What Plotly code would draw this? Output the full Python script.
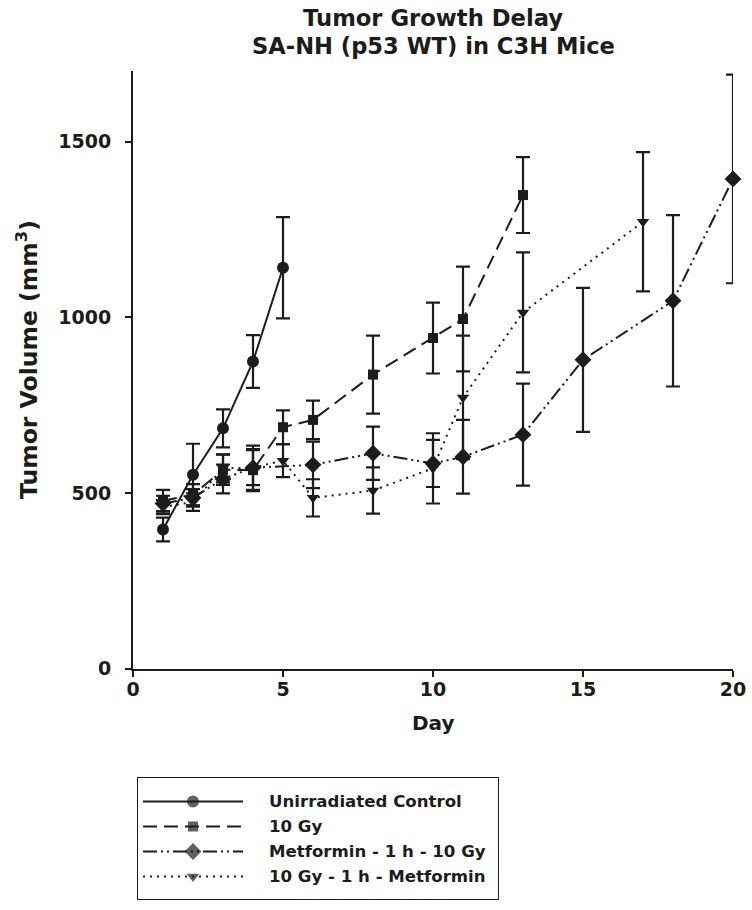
import plotly.graph_objects as go

# ---------------- data ----------------
days_control = [1, 2, 3, 4, 5]
vol_control = [396, 552, 684, 874, 1141]
sem_control = [34, 88, 54, 75, 144]

days_10gy = [1, 2, 3, 4, 5, 6, 8, 10, 11, 13]
vol_10gy = [478, 495, 566, 565, 687, 708, 837, 941, 995, 1348]
sem_10gy = [31, 30, 43, 60, 48, 55, 111, 101, 149, 108]

days_met_rt = [1, 2, 3, 4, 6, 8, 10, 11, 13, 15, 18, 20]
vol_met_rt = [470, 486, 540, 572, 580, 613, 584, 603, 666, 879, 1047, 1394]
sem_met_rt = [22, 25, 41, 63, 66, 76, 67, 105, 145, 205, 244, 297]

days_rt_met = [1, 2, 3, 4, 5, 6, 8, 10, 11, 13, 17]
vol_rt_met = [460, 474, 570, 572, 592, 486, 507, 570, 772, 1014, 1272]
sem_rt_met = [20, 25, 40, 50, 47, 53, 66, 100, 176, 171, 198]

series_names = ["Unirradiated Control", "10 Gy",
                "Metformin - 1 h - 10 Gy", "10 Gy - 1 h - Metformin"]
x_ticks = [0, 5, 10, 15, 20]
y_ticks = [0, 500, 1000, 1500]

title_lines = ["Tumor Growth Delay", "SA-NH (p53 WT) in C3H Mice"]
x_title = "Day"
y_title = "Tumor Volume (mm<sup>3</sup>)"

# ---------------- styling ----------------
W, H = 752, 910
INK = "#1c1c1c"
FONT = "DejaVu Sans"

PL, PR, PT, PB = 133, 733, 71.4, 668.6   # plot area in px

styles = [
    dict(symbol="circle", size=12, dash="solid"),
    dict(symbol="square", size=10, dash="14px,7px"),
    dict(symbol="diamond", size=13, dash="14px,4px,2px,4px,2px,4px"),
    dict(symbol="triangle-down", size=11, dash="2px,5px"),
]
data = [
    (days_control, vol_control, sem_control),
    (days_10gy, vol_10gy, sem_10gy),
    (days_met_rt, vol_met_rt, sem_met_rt),
    (days_rt_met, vol_rt_met, sem_rt_met),
]

fig = go.Figure()
for (xs, ys, es), st, name in zip(data, styles, series_names):
    fig.add_trace(go.Scatter(
        x=xs, y=ys, name=name, mode="lines+markers", showlegend=False,
        line=dict(color=INK, width=2, dash=st["dash"]),
        marker=dict(symbol=st["symbol"], size=st["size"], color=INK, line=dict(width=0)),
        error_y=dict(type="data", array=es, visible=True, color=INK, thickness=2.2, width=7),
        cliponaxis=False, xaxis="x", yaxis="y",
    ))

# ---------------- custom legend (separate small axes, px units) ----------------
LX0, LX1, LY0, LY1 = 137, 499, 777, 900
rows = [801.5, 826.5, 851.5, 876.5]
for st, name, ry in zip(styles, series_names, rows):
    fig.add_trace(go.Scatter(
        x=[143, 193, 243], y=[ry, ry, ry], mode="lines+markers", showlegend=False,
        line=dict(color=INK, width=2, dash=st["dash"]),
        marker=dict(symbol=st["symbol"], size=[0, st["size"], 0], color=INK, line=dict(width=0)),
        hoverinfo="skip", xaxis="x2", yaxis="y2", cliponaxis=False,
    ))

annotations = []
for name, ry in zip(series_names, rows):
    annotations.append(dict(
        x=267, y=ry, xref="x2", yref="y2", text=name, showarrow=False,
        xanchor="left", yanchor="middle",
        font=dict(family=FONT, size=16.6, color=INK, weight="bold")))

cx = (PL + PR) / 2 / W
annotations.append(dict(x=cx, y=1 - 17.5 / H, xref="paper", yref="paper",
                        text=title_lines[0], showarrow=False, xanchor="center", yanchor="middle",
                        font=dict(family=FONT, size=22.7, color=INK, weight="bold")))
annotations.append(dict(x=cx, y=1 - 45.5 / H, xref="paper", yref="paper",
                        text=title_lines[1], showarrow=False, xanchor="center", yanchor="middle",
                        font=dict(family=FONT, size=22.6, color=INK, weight="bold")))
annotations.append(dict(x=cx, y=1 - 723 / H, xref="paper", yref="paper",
                        text=x_title, showarrow=False, xanchor="center", yanchor="middle",
                        font=dict(family=FONT, size=20, color=INK, weight="bold")))
annotations.append(dict(x=28 / W, y=1 - 360 / H, xref="paper", yref="paper",
                        text=y_title, showarrow=False, xanchor="center", yanchor="middle",
                        textangle=-90,
                        font=dict(family=FONT, size=23.5, color=INK, weight="bold")))

axis_common = dict(showgrid=False, zeroline=False, showline=True, linecolor=INK, linewidth=2,
                   ticks="outside", ticklen=6, tickwidth=2, tickcolor=INK, automargin=False,
                   tickfont=dict(family=FONT, size=19, color=INK, weight="bold"))

fig.update_layout(
    width=W, height=H,
    margin=dict(l=0, r=0, t=0, b=0, pad=0, autoexpand=False),
    paper_bgcolor="white", plot_bgcolor="white",
    showlegend=False,
    xaxis=dict(domain=[PL / W, PR / W], range=[0, 20], tickvals=x_ticks,
               anchor="y", ticklabelstandoff=-3, **axis_common),
    yaxis=dict(domain=[1 - PB / H, 1 - PT / H], range=[0, 1700], tickvals=y_ticks,
               anchor="x", ticklabelstandoff=10, **axis_common),
    xaxis2=dict(domain=[LX0 / W, LX1 / W], range=[LX0, LX1], visible=False, anchor="y2"),
    yaxis2=dict(domain=[1 - LY1 / H, 1 - LY0 / H], range=[LY1, LY0], visible=False, anchor="x2"),
    shapes=[dict(type="rect", xref="x2", yref="y2", x0=LX0, x1=LX1, y0=LY0, y1=LY1,
                 line=dict(color=INK, width=2))],
    annotations=annotations,
)

# remove the browser's default 8px body margin so the figure fills the window exactly
fig.write_html("out.html",
               config={"displayModeBar": False, "staticPlot": True},
               post_script="document.body.style.margin='0';document.body.style.overflow='hidden';")
